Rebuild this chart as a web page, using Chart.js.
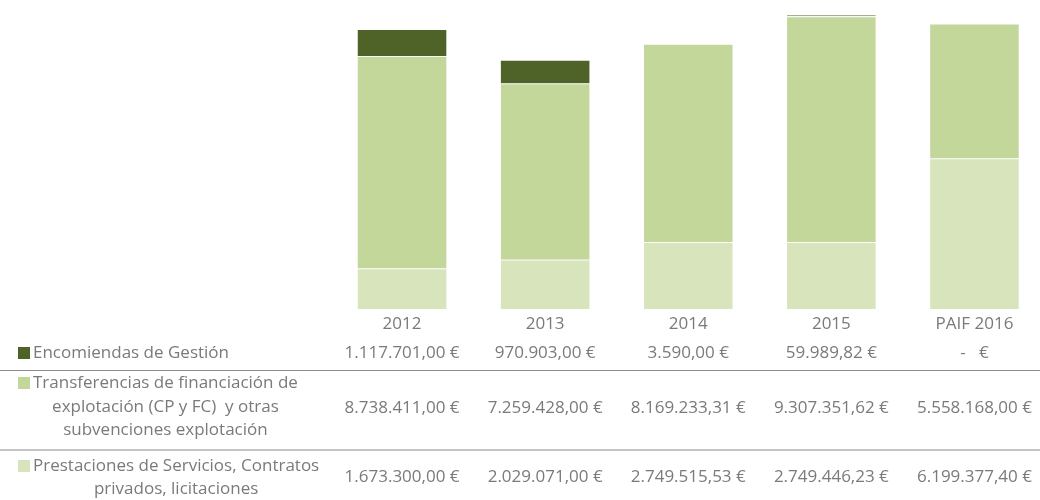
<!DOCTYPE html>
<html>
<head>
<meta charset="utf-8">
<script src="https://cdn.jsdelivr.net/npm/chart.js@4"></script>
<style>
  html, body { margin: 0; padding: 0; background: #fff; overflow: hidden; }
  #wrap { width: 1046px; height: 500px; }
</style>
</head>
<body>
<div id="wrap"><canvas id="budgetChart" width="1046" height="500"></canvas></div>
<script>
const years = ['2012', '2013', '2014', '2015', 'PAIF 2016'];
const encomiendas = [1117701.00, 970903.00, 3590.00, 59989.82, 0];
const transferencias = [8738411.00, 7259428.00, 8169233.31, 9307351.62, 5558168.00];
const prestaciones = [1673300.00, 2029071.00, 2749515.53, 2749446.23, 6199377.40];

const labelEncomiendas = ['Encomiendas de Gestión'];
const labelTransferencias = ['Transferencias de financiación de', 'explotación (CP y FC)  y otras', 'subvenciones explotación'];
const labelPrestaciones = ['Prestaciones de Servicios, Contratos', 'privados, licitaciones'];

const textColor = '#7a7a7a';
const fontFamily = "'Open Sans', sans-serif";
const fontSize = 17;

// euro amounts in Spanish format: 1.117.701,00 €
function euro(v) {
    if (!v) return '-   €';
    const parts = v.toFixed(2).split('.');
    return parts[0].replace(/\B(?=(\d{3})+(?!\d))/g, '.') + ',' + parts[1] + ' €';
}

// rows of the data table under the bars (top to bottom)
const tableRows = [
    { values: encomiendas, lines: labelEncomiendas, color: '#4f6228', lineY: [353], valueY: 353, rule: { y: 370.5, color: '#8c8c8c', width: 1.2 } },
    { values: transferencias, lines: labelTransferencias, color: '#c4d79b', lineY: [383, 407, 430], valueY: 408, rule: { y: 450, color: '#c4c4c4', width: 2 } },
    { values: prestaciones, lines: labelPrestaciones, color: '#d8e4bc', lineY: [466, 489], valueY: 477 }
];

const dataTable = {
    id: 'dataTable',
    afterDraw(chart) {
        const ctx = chart.ctx;
        const x = chart.scales.x;
        ctx.save();
        ctx.font = fontSize + 'px ' + fontFamily;
        ctx.textBaseline = 'middle';
        tableRows.forEach(row => {
            // legend key + wrapped series name
            const first = row.lines[0];
            const textLeft = 33;
            const firstW = ctx.measureText(first).width;
            ctx.fillStyle = row.color;
            ctx.fillRect(18, row.lineY[0] - 6, 12, 12);
            ctx.fillStyle = textColor;
            ctx.textAlign = 'left';
            ctx.fillText(first, textLeft, row.lineY[0]);
            ctx.textAlign = 'center';
            for (let i = 1; i < row.lines.length; i++) {
                ctx.fillText(row.lines[i], textLeft + firstW / 2, row.lineY[i]);
            }
            // values under each category
            row.values.forEach((v, i) => {
                ctx.fillText(euro(v), x.getPixelForValue(i), row.valueY);
            });
            if (row.rule) {
                ctx.strokeStyle = row.rule.color;
                ctx.lineWidth = row.rule.width;
                ctx.beginPath();
                ctx.moveTo(0, row.rule.y);
                ctx.lineTo(chart.width, row.rule.y);
                ctx.stroke();
            }
        });
        ctx.restore();
    }
};

const barStyle = { borderColor: 'rgba(255,255,255,0.6)', borderWidth: 0.8, barPercentage: 0.63, categoryPercentage: 1 };

new Chart(document.getElementById('budgetChart'), {
    type: 'bar',
    data: {
        labels: years,
        datasets: [
            Object.assign({ label: labelPrestaciones.join(' '), data: prestaciones, backgroundColor: '#d8e4bc' }, barStyle),
            Object.assign({ label: labelTransferencias.join(' '), data: transferencias, backgroundColor: '#c4d79b' }, barStyle),
            Object.assign({ label: labelEncomiendas.join(' '), data: encomiendas, backgroundColor: '#4f6228' }, barStyle)
        ]
    },
    options: {
        responsive: false,
        animation: false,
        layout: { padding: { left: 330.5, right: 0, top: 0, bottom: 0 } },
        plugins: { legend: { display: false }, tooltip: { enabled: false } },
        scales: {
            x: {
                stacked: true,
                grid: { display: false, drawTicks: false },
                border: { display: false },
                ticks: { color: textColor, font: { family: fontFamily, size: fontSize }, padding: 5 },
                afterFit: scale => { scale.height = 191; }
            },
            y: {
                stacked: true,
                display: false,
                min: 0,
                max: 12730000
            }
        }
    },
    plugins: [dataTable]
});
</script>
</body>
</html>
